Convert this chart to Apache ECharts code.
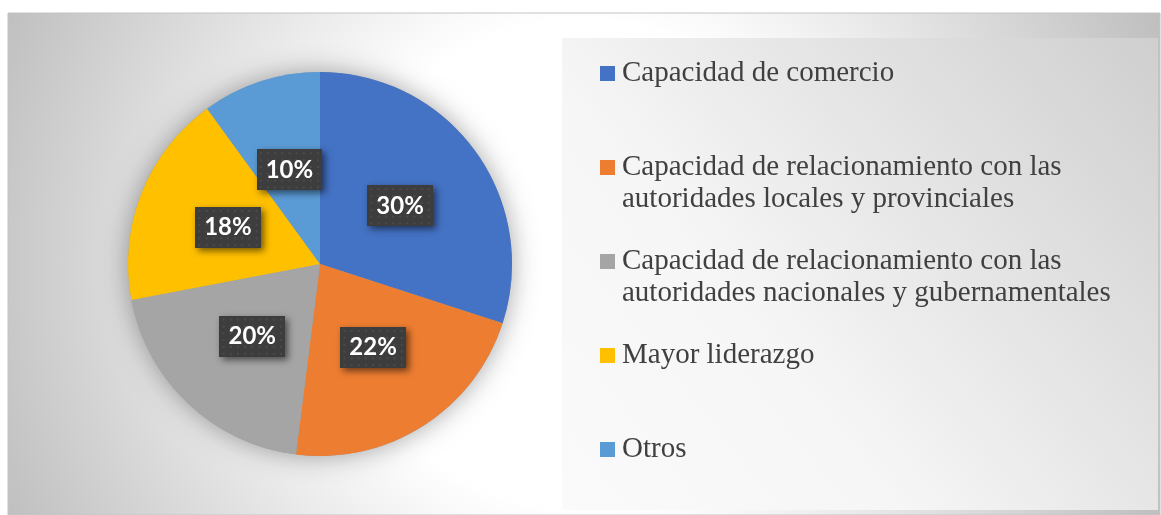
<!DOCTYPE html>
<html>
<head>
<meta charset="utf-8">
<script src="https://cdn.jsdelivr.net/npm/echarts@6/dist/echarts.min.js"></script>
<style>
html,body{margin:0;padding:0;background:#fff;}
#chart{width:1161px;height:515px;}
</style>
</head>
<body>
<div id="chart"></div>
<script>
const categories = [
  'Capacidad de comercio',
  'Capacidad de relacionamiento con las autoridades locales y provinciales',
  'Capacidad de relacionamiento con las autoridades nacionales y gubernamentales',
  'Mayor liderazgo',
  'Otros'
];
const values = [30, 22, 20, 18, 10];
const colors = ['#4472C4', '#ED7D31', '#A5A5A5', '#FFC000', '#5B9BD5'];

function wrap(text, maxChars) {
  const words = text.split(' ');
  const lines = [];
  let cur = '';
  words.forEach(w => {
    const t = cur ? cur + ' ' + w : w;
    if (t.length > maxChars && cur) { lines.push(cur); cur = w; } else { cur = t; }
  });
  if (cur) lines.push(cur);
  return lines;
}

// dotted pattern for label boxes
const pat = document.createElement('canvas');
pat.width = 64; pat.height = 42;
(function () {
  const c = pat.getContext('2d');
  c.fillStyle = '#3d3d3d';
  c.fillRect(0, 0, 64, 42);
  c.fillStyle = '#4b4b4b';
  for (let y = 3; y < 42; y += 7) {
    for (let x = 3; x < 64; x += 7) {
      c.fillRect(x, y, 2, 2);
    }
  }
})();

const rich = {
  gap: { width: 7, lineHeight: 32 },
  ind: { width: 22, lineHeight: 32 },
  t: { fontSize: 29, fontFamily: '"Liberation Serif", "Times New Roman", serif', color: '#404040', lineHeight: 32 }
};
colors.forEach((c, i) => {
  rich['sq' + i] = { width: 15, height: 15, backgroundColor: c, verticalAlign: 'middle' };
});

const chart = echarts.init(document.getElementById('chart'), null, { renderer: 'canvas' });
chart.setOption({
  animation: false,
  graphic: [
    {
      type: 'rect', z: 0, silent: true,
      shape: { x: 8, y: 13, width: 1152, height: 502 },
      style: {
        fill: { type: 'radial', x: 580, y: 264, r: 640, global: true,
          colorStops: [{ offset: 0, color: '#ffffff' }, { offset: 0.38, color: '#ffffff' }, { offset: 1, color: '#bdbdbd' }] },
        stroke: '#c4c4c4', lineWidth: 1
      }
    },
    {
      type: 'rect', z: 1, silent: true,
      shape: { x: 562, y: 38, width: 596, height: 472 },
      style: {
        fill: { type: 'linear', x: 562, y: 510, x2: 1158, y2: 38, global: true,
          colorStops: [{ offset: 0, color: '#fafafa' }, { offset: 0.35, color: '#f6f6f6' }, { offset: 1, color: '#cfcfcf' }] }
      }
    }
  ],
  legend: {
    orient: 'vertical',
    left: 590,
    top: 54,
    icon: 'rect',
    itemWidth: 0,
    itemHeight: 0,
    itemGap: 33,
    selectedMode: false,
    data: categories,
    formatter: function (name) {
      const i = categories.indexOf(name);
      const lines = wrap(name, 40);
      let s = '{sq' + i + '| }{gap| }{t|' + lines[0] + '}';
      s += '\n{ind| }{t|' + (lines[1] || ' ') + '}';
      return s;
    },
    textStyle: { rich: rich }
  },
  series: [
    {
      type: 'pie', silent: true, z: 1,
      center: [320, 264], radius: 192,
      label: { show: false }, labelLine: { show: false },
      itemStyle: { color: '#a0a0a0', shadowBlur: 26, shadowColor: 'rgba(0,0,0,0.35)' },
      data: [{ value: 1, name: '_base' }]
    },
    {
      type: 'pie', z: 2,
      center: [320, 264],
      radius: 192,
      startAngle: 90,
      clockwise: true,
      data: categories.map((c, i) => ({ name: c, value: values[i], itemStyle: { color: colors[i] } })),
      label: {
        show: true,
        position: 'inside',
        formatter: p => p.value + '%',
        color: '#ffffff',
        fontFamily: 'Lato, "Open Sans", sans-serif',
        fontWeight: 'bold',
        fontSize: 24,
        backgroundColor: { image: pat },
        padding: [9, 9, 8, 9],
        shadowColor: 'rgba(0,0,0,0.55)',
        shadowBlur: 7,
        shadowOffsetX: 3,
        shadowOffsetY: 3
      },
      labelLine: { show: false },
      emphasis: { disabled: true }
    }
  ]
});
</script>
</body>
</html>
